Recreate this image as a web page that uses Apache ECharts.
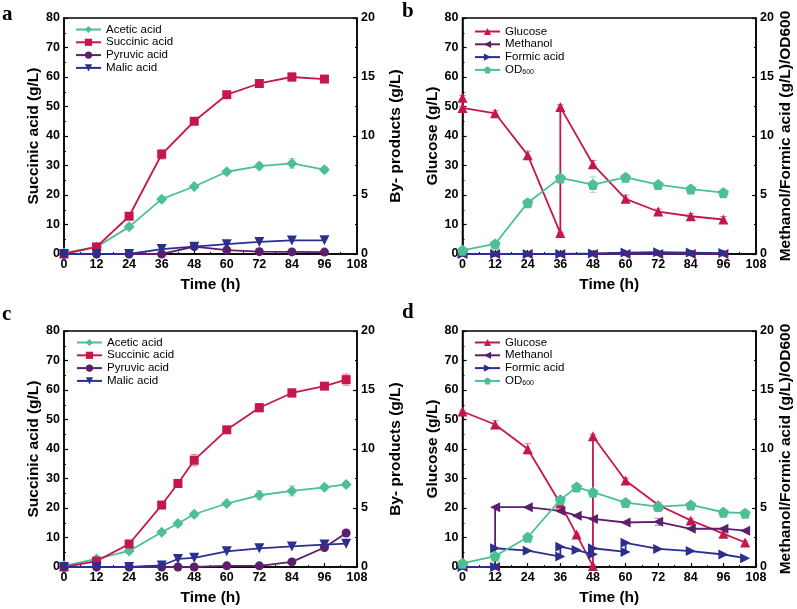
<!DOCTYPE html>
<html><head><meta charset="utf-8">
<script src="https://cdn.jsdelivr.net/npm/echarts@6/dist/echarts.min.js"></script>
<style>html,body{margin:0;padding:0;background:#fff}#c{width:797px;height:609px}</style>
</head><body><div id="c"></div>
<script>
// ---- Panel a ----
const timeA = [0,12,24,36,48,60,72,84,96];
const succA = [0,2.4,12.8,33.8,45,54,57.8,60,59.3];
const succAErr = [0,0.3,0.6,1.6,1.0,0.8,1.0,1.4,1.1];
const aceticA = [0.1,0.6,2.3,4.65,5.72,6.97,7.45,7.68,7.15];
const aceticAErr = [0,0.08,0.15,0.25,0.18,0.2,0.25,0.4,0.22];
const pyrA = [0,0,0,0,0.62,0.33,0.2,0.18,0.16];
const malA = [0,0,0,0.42,0.62,0.83,1.02,1.15,1.16];
// ---- Panel b ----
const glucBt = [0,0,12,24,36,36,48,60,72,84,96];
const glucB = [53,49.5,47.7,33.5,7.1,49.8,30.4,18.7,14.4,12.8,11.7];
const glucBErr = [0.8,0.5,0.9,1.4,0.3,0.8,1.3,1.3,0.9,0.9,1.0];
const timeB = [0,12,24,36,48,60,72,84,96];
const methB = [0,0,0,0,0,0,0,0,0];
const formB = [0,0,0,0,0.05,0.12,0.15,0.12,0.08];
const odB = [0.31,0.85,4.35,6.45,5.88,6.5,5.88,5.5,5.2];
const odBErr = [0,0.05,0.1,0.1,0.65,0.1,0.1,0.08,0.1];
// ---- Panel c ----
const timeC = [0,12,24,36,42,48,60,72,84,96,104];
const succC = [0,2,7.8,21,28.3,36.2,46.5,54,59,61.3,63.5];
const succCErr = [0,0.3,1.0,0.9,1.3,1.9,1.0,1.4,1.4,1.0,1.9];
const aceticC = [0.1,0.68,1.36,2.95,3.68,4.47,5.38,6.08,6.45,6.75,7.0];
const aceticCErr = [0,0.08,0.1,0.15,0.2,0.2,0.2,0.38,0.42,0.2,0.2];
const pyrC = [0,0,0,0,0,0,0.1,0.1,0.43,1.65,2.88];
const malC = [0,0,0,0.13,0.68,0.78,1.33,1.58,1.74,1.9,1.98];
// ---- Panel d ----
const glucDt = [0,12,24,36,42,48,48,60,72,84,96,104];
const glucD = [52.7,48.3,40,21.5,11,0.3,44.3,29.3,21,15.8,11.3,8.3];
const glucDErr = [0.5,1.3,1.8,0.8,0.5,0.3,0.7,0.8,0.9,0.5,1.0,0.5];
const methDt = [0,12,12,24,36,42,48,60,72,84,96,104];
const methD = [0,0,5.07,5.07,4.75,4.35,4.07,3.77,3.83,3.24,3.25,3.08];
const methDErr = [0,0,0.05,0.05,0.08,0.05,0.05,0.05,0.3,0.05,0.05,0.05];
const formDt = [0,12,12,24,36,36,42,48,48,60,60,72,84,96,104];
const formD = [0,0,1.59,1.38,0.88,1.72,1.44,1.08,1.59,1.28,2.05,1.53,1.35,1.06,0.75];
const odDt = [0,12,24,36,42,48,60,72,84,96,104];
const odD = [0.31,0.93,2.52,5.69,6.77,6.34,5.46,5.12,5.26,4.64,4.56];

const xTicks = [0,108,12];
const leftTicks = [0,80,10];
const rightTicks = [0,20,5];

const GREEN='#4cbf93', RED='#c6174b', PURPLE='#5b1f6b', BLUE='#2b2f8f';
const PENT='path://M0,-1 L0.951,-0.309 L0.588,0.809 L-0.588,0.809 L-0.951,-0.309 Z';
const FONT='"Liberation Sans", Arial, sans-serif';

const grids = [
  {left:64, top:18, width:293, height:236},
  {left:462.5, top:18, width:293.5, height:236},
  {left:64, top:331, width:293, height:236},
  {left:462.5, top:331, width:293.5, height:236}
].map(g=>Object.assign(g,{show:true,borderColor:'#000',borderWidth:1.5,containLabel:false}));

const axLine={lineStyle:{color:'#000',width:1.5}};
const axTick={inside:true,length:4,lineStyle:{color:'#000',width:1.2}};
const minTick={show:true,splitNumber:2,length:2,lineStyle:{color:'#000',width:1}};
const axLabel={color:'#000',fontFamily:FONT,fontWeight:'bold',fontSize:12.5,margin:4};
const nameStyle={color:'#000',fontFamily:FONT,fontWeight:'bold',fontSize:15.5};

const xAxes=[0,1,2,3].map(i=>({type:'value',gridIndex:i,min:xTicks[0],max:xTicks[1],interval:xTicks[2],
  name:'Time (h)',nameLocation:'middle',nameGap:23,nameTextStyle:nameStyle,
  axisLine:axLine,axisTick:axTick,minorTick:minTick,axisLabel:axLabel,splitLine:{show:false}}));
const leftNames=['Succinic acid (g/L)','Glucose (g/L)','Succinic acid (g/L)','Glucose (g/L)'];
const rightNames=['By- products (g/L)','Methanol/Formic acid (g/L)/OD600','By- products (g/L)','Methanol/Formic acid (g/L)/OD600'];
const yAxes=[];
[0,1,2,3].forEach(i=>{
  yAxes.push({type:'value',gridIndex:i,position:'left',min:leftTicks[0],max:leftTicks[1],interval:leftTicks[2],
    name:leftNames[i],nameLocation:'middle',nameRotate:90,nameGap:19,nameTextStyle:nameStyle,
    axisLine:Object.assign({show:true},axLine),axisTick:axTick,minorTick:minTick,axisLabel:axLabel,splitLine:{show:false}});
  yAxes.push({type:'value',gridIndex:i,position:'right',min:rightTicks[0],max:rightTicks[1],interval:rightTicks[2],
    name:rightNames[i],nameLocation:'middle',nameRotate:90,nameGap:i%2?22:31,nameTextStyle:nameStyle,
    axisLine:Object.assign({show:true},axLine),axisTick:axTick,minorTick:minTick,axisLabel:axLabel,splitLine:{show:false}});
});

function pairs(t,v){return t.map((x,i)=>[x,v[i]]);}
function ser(name,grid,right,t,v,color,symbol,size,rot){
  return {type:'line',name:name,xAxisIndex:grid,yAxisIndex:grid*2+(right?1:0),data:pairs(t,v),
    symbol:symbol,symbolSize:size,symbolRotate:rot||0,showSymbol:true,
    itemStyle:{color:color},lineStyle:{color:color,width:1.8},z:3,animation:false};
}
function err(grid,right,t,v,e,color){
  return {type:'custom',xAxisIndex:grid,yAxisIndex:grid*2+(right?1:0),z:2,silent:true,animation:false,
    data:t.map((x,i)=>[x,v[i],e[i]]),
    renderItem:function(params,api){
      const x=api.value(0),y=api.value(1),d=api.value(2);
      if(!d) return null;
      const hi=api.coord([x,y+d]),lo=api.coord([x,y-d]);
      const w=3.5,st={stroke:color,lineWidth:1,opacity:0.55};
      return {type:'group',children:[
        {type:'line',shape:{x1:hi[0],y1:hi[1],x2:lo[0],y2:lo[1]},style:st},
        {type:'line',shape:{x1:hi[0]-w,y1:hi[1],x2:hi[0]+w,y2:hi[1]},style:st},
        {type:'line',shape:{x1:lo[0]-w,y1:lo[1],x2:lo[0]+w,y2:lo[1]},style:st}]};
    }};
}
const series=[
  err(0,false,timeA,succA,succAErr,RED),
  err(0,true,timeA,aceticA,aceticAErr,GREEN),
  err(1,false,glucBt,glucB,glucBErr,RED),
  err(1,true,timeB,odB,odBErr,GREEN),
  err(2,false,timeC,succC,succCErr,RED),
  err(2,true,timeC,aceticC,aceticCErr,GREEN),
  err(3,false,glucDt,glucD,glucDErr,RED),
  err(3,true,methDt,methD,methDErr,PURPLE),
  ser('Acetic acid',0,true,timeA,aceticA,GREEN,'diamond',11),
  ser('Succinic acid',0,false,timeA,succA,RED,'rect',9),
  ser('Pyruvic acid',0,true,timeA,pyrA,PURPLE,'circle',9),
  ser('Malic acid',0,true,timeA,malA,BLUE,'triangle',10,180),
  ser('Glucose',1,false,glucBt,glucB,RED,'triangle',10),
  ser('Methanol',1,true,timeB,methB,PURPLE,'triangle',10,90),
  ser('Formic acid',1,true,timeB,formB,BLUE,'triangle',10,-90),
  ser('OD600',1,true,timeB,odB,GREEN,PENT,11),
  ser('Acetic acid',2,true,timeC,aceticC,GREEN,'diamond',11),
  ser('Succinic acid',2,false,timeC,succC,RED,'rect',9),
  ser('Pyruvic acid',2,true,timeC,pyrC,PURPLE,'circle',9),
  ser('Malic acid',2,true,timeC,malC,BLUE,'triangle',10,180),
  ser('Glucose',3,false,glucDt,glucD,RED,'triangle',10),
  ser('Methanol',3,true,methDt,methD,PURPLE,'triangle',10,90),
  ser('Formic acid',3,true,formDt,formD,BLUE,'triangle',10,-90),
  ser('OD600',3,true,odDt,odD,GREEN,PENT,11)
];

const legTxt={color:'#000',fontFamily:FONT,fontSize:11.5,rich:{s:{fontSize:7,fontFamily:FONT,padding:[5,0,0,0]}}};
function leg(names,left,top){
  return {orient:'vertical',left:left,top:top,data:names,itemWidth:25,itemHeight:9,itemGap:0.8,padding:0,
    textStyle:legTxt,selectedMode:false,formatter:n=>n==='OD600'?'OD{s|600}':n};
}
const acids=['Acetic acid','Succinic acid','Pyruvic acid','Malic acid'];
const others=['Glucose','Methanol','Formic acid','OD600'];

const letters=[['a',2,4],['b',402,1],['c',2,304],['d',402,302]].map(l=>({type:'text',left:l[1],top:l[2],
  style:{text:l[0],font:'bold 21px "Liberation Serif", "Times New Roman", serif',fill:'#000'}}));

const chart=echarts.init(document.getElementById('c'),null,{renderer:'canvas'});
chart.setOption({animation:false,backgroundColor:'#fff',grid:grids,xAxis:xAxes,yAxis:yAxes,series:series,
  legend:[leg(acids,75,23.5),leg(others,474,25.5),leg(acids,76,336.5),leg(others,474,336.5)],graphic:letters});
</script></body></html>
